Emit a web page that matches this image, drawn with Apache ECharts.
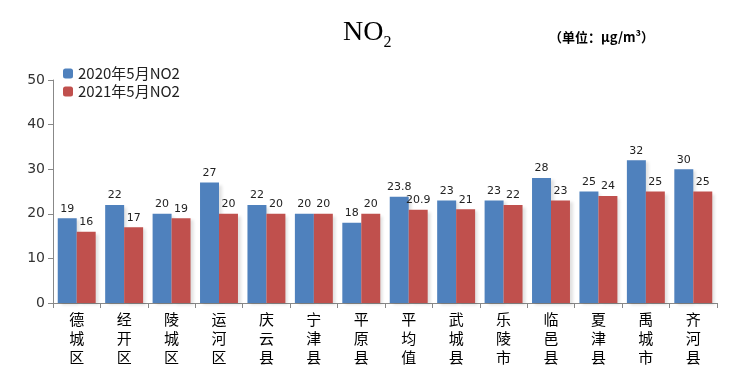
<!DOCTYPE html>
<html><head><meta charset="utf-8">
<script src="https://cdn.jsdelivr.net/npm/echarts@6/dist/echarts.min.js"></script>
<style>html,body{margin:0;padding:0;background:#fff}#c{width:737px;height:381px}</style>
</head><body><div id="c"></div>
<script>
const categories = ['德城区','经开区','陵城区','运河区','庆云县','宁津县','平原县','平均值','武城县','乐陵市','临邑县','夏津县','禹城市','齐河县'];
const series2020 = [19,22,20,27,22,20,18,23.8,23,23,28,25,32,30];
const series2021 = [16,17,19,20,20,20,20,20.9,21,22,23,24,25,25];
const seriesNames = ['2020年5月NO2','2021年5月NO2'];
const yTicks = [0,10,20,30,40,50];

const chart = echarts.init(document.getElementById('c'));
const labelCfg = {show:true, position:'top', distance:4, color:'#222', fontSize:11, fontFamily:'DejaVu Sans'};
chart.setOption({
  animation:false,
  backgroundColor:'#fff',
  title:[{
    text:'{a|NO}{b|2}', left:338, top:14,
    textStyle:{rich:{a:{fontFamily:'Liberation Serif',fontSize:28,fontWeight:'normal',color:'#000',verticalAlign:'bottom'},b:{fontFamily:'Liberation Serif',fontSize:16,fontWeight:'normal',color:'#000',padding:[0,0,-4,0],verticalAlign:'bottom'}}}
  },{
    text:'（单位：μg/m³）', left:544, top:26,
    textStyle:{fontFamily:'Noto Sans CJK SC',fontSize:13,fontWeight:'bold',color:'#000'}
  }],
  legend:{
    orient:'vertical', left:58, top:61, itemWidth:10, itemHeight:10, itemGap:3,
    textStyle:{fontFamily:'Noto Sans CJK SC',fontSize:15,color:'#222'},
    data:seriesNames
  },
  grid:{left:53, right:20, top:80, bottom:78},
  xAxis:{
    type:'category', data:categories,
    axisLine:{lineStyle:{color:'#888'}},
    axisTick:{show:true, length:5, lineStyle:{color:'#888'}},
    axisLabel:{interval:0, margin:7, color:'#000', fontSize:15, lineHeight:19, fontFamily:'Noto Sans CJK SC',
      formatter:v=>v.split('').join('\n')}
  },
  yAxis:{
    type:'value', min:0, max:50, interval:10,
    axisLine:{show:true, lineStyle:{color:'#888'}},
    axisTick:{show:true, length:5, lineStyle:{color:'#888'}},
    splitLine:{show:false},
    axisLabel:{color:'#333', fontSize:14, fontFamily:'DejaVu Sans', margin:8, formatter:v=>yTicks.includes(v)?String(v):''}
  },
  series:[
    {name:seriesNames[0], type:'bar', data:series2020, barGap:'0%', barCategoryGap:'20%',
      itemStyle:{color:'#4F81BD', shadowColor:'rgba(0,0,0,0.12)', shadowOffsetX:3, shadowOffsetY:2, shadowBlur:3},
      label:labelCfg},
    {name:seriesNames[1], type:'bar', data:series2021,
      itemStyle:{color:'#C0504D', shadowColor:'rgba(0,0,0,0.12)', shadowOffsetX:3, shadowOffsetY:2, shadowBlur:3},
      label:labelCfg}
  ]
});
</script></body></html>
